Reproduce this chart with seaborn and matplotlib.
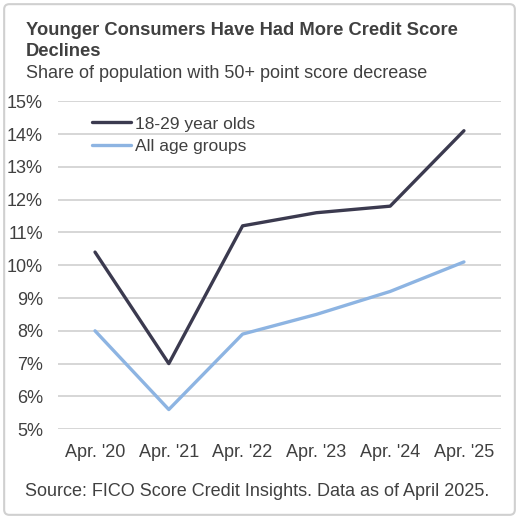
import matplotlib
matplotlib.use("Agg")
import matplotlib.pyplot as plt
import seaborn as sns
import pandas as pd
from matplotlib.patches import FancyBboxPatch

categories = ["Apr. '20", "Apr. '21", "Apr. '22", "Apr. '23", "Apr. '24", "Apr. '25"]
young = [10.4, 7.0, 11.2, 11.6, 11.8, 14.1]
all_ages = [8.0, 5.6, 7.9, 8.5, 9.2, 10.1]
yticks = [5, 6, 7, 8, 9, 10, 11, 12, 13, 14, 15]

sns.set_theme(style="white")
plt.rcParams['font.family'] = ['Liberation Sans', 'DejaVu Sans']

df = pd.DataFrame({
    "x": list(range(len(categories))) * 2,
    "value": young + all_ages,
    "series": ["18-29 year olds"] * len(young) + ["All age groups"] * len(all_ages),
})

fig = plt.figure(figsize=(5.19, 5.19), dpi=100)
ax = fig.add_axes([0.112, 0.173, 0.853, 0.632])

palette = {"18-29 year olds": "#3b3a4f", "All age groups": "#8db4e2"}
sns.lineplot(data=df, x="x", y="value", hue="series", palette=palette,
             linewidth=2.4, ax=ax, legend=True)

ax.set_xlim(-0.5, len(categories) - 0.5)
ax.set_ylim(5, 15)
ax.set_yticks(yticks)
ax.set_yticklabels([f"{t}%" for t in yticks])
ax.set_xticks(range(len(categories)))
ax.set_xticklabels(categories)
ax.set_xlabel("")
ax.set_ylabel("")
ax.tick_params(axis="both", labelsize=13, colors="#404040", length=0)
ax.tick_params(axis="y", pad=11)
ax.tick_params(axis="x", pad=11)
ax.yaxis.grid(True, color="#d0d0d0", linewidth=1.2)
ax.set_axisbelow(True)
for s in ax.spines.values():
    s.set_visible(False)

leg = ax.legend(loc="upper left", bbox_to_anchor=(0.06, 0.975), frameon=False,
                fontsize=12.5, handlelength=2.25, handletextpad=0.25, labelspacing=0.45,
                borderaxespad=0)
for t in leg.get_texts():
    t.set_color("#404040")

fig.text(0.05, 0.958, "Younger Consumers Have Had More Credit Score\nDeclines",
         fontsize=13.2, fontweight="bold", color="#404040", va="top", linespacing=1.35)
fig.text(0.05, 0.875, "Share of population with 50+ point score decrease",
         fontsize=13, color="#404040", va="top")
fig.text(0.495, 0.053, "Source: FICO Score Credit Insights. Data as of April 2025.",
         fontsize=13, color="#404040", ha="center", va="center")

border = FancyBboxPatch((0.008, 0.008), 0.984, 0.984, boxstyle="round,pad=0,rounding_size=0.01",
                        transform=fig.transFigure, fill=False, edgecolor="#d0d0d0", linewidth=1.5)
fig.patches.append(border)

fig.savefig("out.png", dpi=100)
